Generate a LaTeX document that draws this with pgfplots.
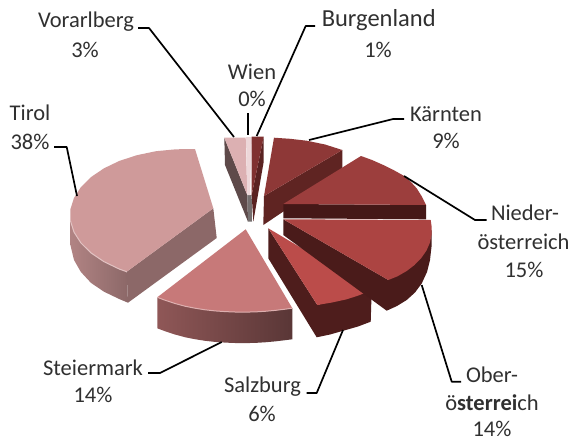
\documentclass[border=0pt]{standalone}
\usepackage{fontspec}
\setmainfont{Carlito}
\usepackage{pgfplots}
\pgfplotsset{compat=1.18}
\definecolor{tirT}{HTML}{CF9A9A}
\definecolor{tirS}{HTML}{8C6868}
\definecolor{steT}{HTML}{C77979}
\definecolor{salT}{HTML}{BB4C4A}
\definecolor{salS}{HTML}{4E1D1C}
\definecolor{oberT}{HTML}{AC4442}
\definecolor{oberS}{HTML}{4A1B1A}
\definecolor{niedT}{HTML}{9C3E3D}
\definecolor{niedS}{HTML}{451817}
\definecolor{karT}{HTML}{8E3837}
\definecolor{karS}{HTML}{5F2422}
\definecolor{burT}{HTML}{7F3130}
\definecolor{burS}{HTML}{5A2322}
\definecolor{vorT}{HTML}{DCB0B2}
\definecolor{vorS}{HTML}{5E4A4A}
\definecolor{txt}{HTML}{303030}
\tikzset{lab/.style={font=\fontsize{22.5}{27}\selectfont,text=txt,inner sep=0pt,anchor=center}}
\begin{document}
\begin{tikzpicture}
\begin{axis}[
    scale only axis,
    width=572pt,
    height=441pt,
    xmin=0, xmax=572,
    ymin=0, ymax=441,
    y dir=reverse,
    hide axis,
    clip=false,
    no markers,
    every axis plot/.append style={line join=round},
]
% page
\addplot[fill=white,draw=none] coordinates {(0,0)(572,0)(572,441)(0,441)(0,0)};
% Tirol
\addplot[draw=none,left color=tirS!45!tirT,right color=tirS] coordinates {(70.4,220.7)(70.4,245)(74,260)(80.9,272)(91,282.9)(104,291.7)(119.4,299.1)(128,302.7)(126.7,271.7)(119.4,269.1)(104,261.7)(91,252.9)(80.9,242.9)(74,232.1)(70.4,220.7)};
\addplot[fill=tirS,draw=none] coordinates {(126.7,271.7)(213.3,208.3)(216.7,238)(128,302.7)(126.7,271.7)};
\addplot[fill=tirT,draw=none] coordinates {(213.3,208.3)(195,149)(175.9,149.3)(156,151.2)(136.9,155.2)(119.4,160.9)(104,168.3)(91,177.1)(80.9,187.1)(74,197.9)(70.4,209.3)(70.4,220.7)(74,232.1)(80.9,242.9)(91,252.9)(104,261.7)(119.4,269.1)(126.7,271.7)(213.3,208.3)};
\addplot[draw=tirT!60!white,line width=1pt] coordinates {(70.4,220.7)(74,232.1)(80.9,242.9)(91,252.9)(104,261.7)(119.4,269.1)(126.7,271.7)};
% Steiermark
\addplot[draw=none,left color=steT!72!black,right color=steT!45!black] coordinates {(157.3,297.3)(157.3,328.3)(165,331.2)(175,334.5)(185,337.2)(195,339.2)(205,340.8)(215,341.9)(225,342.6)(235,343)(245,343.1)(255,342.9)(265,342.3)(275,341.4)(285,340.2)(292.3,339.3)(292.3,308.2)(285,309.2)(275,310.4)(265,311.3)(255,311.9)(245,312.1)(235,312)(225,311.6)(215,310.9)(205,309.8)(195,308.2)(185,306.2)(175,303.5)(165,300.2)(157.3,297.3)};
\addplot[fill=steT,draw=none] coordinates {(245.7,229.3)(157.3,297.3)(165,300.2)(175,303.5)(185,306.2)(195,308.2)(205,309.8)(215,310.9)(225,311.6)(235,312)(245,312.1)(255,311.9)(265,311.3)(275,310.4)(285,309.2)(292.3,308.2)(245.7,229.3)};
\addplot[draw=steT!60!white,line width=1pt] coordinates {(157.3,297.3)(165,300.2)(175,303.5)(185,306.2)(195,308.2)(205,309.8)(215,310.9)(225,311.6)(235,312)(245,312.1)(255,311.9)(265,311.3)(275,310.4)(285,309.2)(292.3,308.2)};
% Salzburg
\addplot[fill=salS,draw=none] coordinates {(268.3,228.3)(268.3,258.3)(316.7,337.3)(330,334.5)(343.3,330.7)(358,326.5)(370.7,321.7)(371.7,290)(317.3,305)(268.3,228.3)};
\addplot[fill=salT,draw=none] coordinates {(268.3,228.3)(317.3,305)(332,302.5)(346.7,299.3)(359,295.3)(371.7,290)(268.3,228.3)};
% Kaernten
\addplot[fill=karS,draw=none] coordinates {(264,196)(342.3,150)(342.3,172)(263.3,225)(264,196)};
\addplot[fill=karT,draw=none] coordinates {(264,196)(274,137.7)(290,138.8)(306.7,140.7)(325,144.5)(342.3,150)(264,196)};
% Niederoesterreich
\addplot[fill=niedS,draw=none] coordinates {(283.3,204)(283.3,218.3)(426,219.3)(426,205)(283.3,204)};
\addplot[fill=niedT,draw=none] coordinates {(283.3,204)(361,156)(372,160)(383.3,165)(393.5,170)(403.3,175.5)(410.5,181.5)(416.7,188.3)(421.5,196)(426,205)(283.3,204)};
% Oberoesterreich
\addplot[fill=oberS,draw=none] coordinates {(283.3,219.3)(283.3,235)(386.7,310.7)(397,306)(406.7,300)(415,292.5)(421.7,283.5)(427,272)(430,260)(431.7,245)(431.7,230)(388.3,280)(283.3,219.3)};
\addplot[fill=oberT,draw=none] coordinates {(283.3,219.3)(388.3,280)(397.5,276.3)(406.7,271)(414.5,265)(421.3,258)(426.5,250.5)(430,242.5)(431.7,234)(431.7,227)(430.7,220)(283.3,219.3)};
% Vorarlberg
\addplot[fill=vorS,draw=none] coordinates {(224.3,137.7)(225,165)(248,221.7)(247.3,195)(224.3,137.7)};
\addplot[fill=vorT,draw=none] coordinates {(224.3,137.7)(245.7,137.7)(247.3,195)(224.3,137.7)};
% Wien
\addplot[fill=gray!70!vorS,draw=none] coordinates {(247.3,195)(248,221.7)(252,221.7)(251.7,195)(247.3,195)};
\addplot[fill=vorT!50!white,draw=none] coordinates {(246,137)(251.7,137)(250,195)(247.3,195)(246,137)};
% Burgenland
\addplot[fill=burS,draw=none] coordinates {(251.7,195)(263.7,136.7)(263.7,161.7)(253.3,221.7)(251.7,195)};
\addplot[fill=burT,draw=none] coordinates {(251.7,136.7)(263.7,136.7)(251.7,195)(251.7,136.7)};
% leader lines
\addplot[black,line width=1.7pt] coordinates {(138,28)(149,28)(234,137)};
\addplot[black,line width=1.7pt] coordinates {(315,26)(305.7,26)(256.7,136)};
\addplot[black,line width=1.7pt] coordinates {(248,113)(248,135)};
\addplot[black,line width=1.7pt] coordinates {(404,119)(393,119)(309,140)};
\addplot[black,line width=1.7pt] coordinates {(54,147)(66.7,147)(77,196)};
\addplot[black,line width=1.7pt] coordinates {(404,176)(475,220)(486.7,220)};
\addplot[black,line width=1.7pt] coordinates {(421.7,285)(451.7,381.7)(461,381.7)};
\addplot[black,line width=1.7pt] coordinates {(343,330)(316.7,393)(306.7,393)};
\addplot[black,line width=1.7pt] coordinates {(221.7,342)(160,373)(148,373)};
% labels
\node[lab] at (axis cs:86,22) {Vorarlberg};
\node[lab] at (axis cs:85,50) {3\%};
\node[lab,font=\fontsize{24.5}{29}\selectfont] at (axis cs:378.7,20) {Burgenland};
\node[lab] at (axis cs:378,50) {1\%};
\node[lab] at (axis cs:252,72) {Wien};
\node[lab] at (axis cs:252,99) {0\%};
\node[lab] at (axis cs:446,114) {Kärnten};
\node[lab] at (axis cs:446,141) {9\%};
\node[lab] at (axis cs:30,113) {Tirol};
\node[lab] at (axis cs:30,142) {38\%};
\node[lab] at (axis cs:525,213) {Nieder-};
\node[lab] at (axis cs:523.5,242) {österreich};
\node[lab] at (axis cs:524,270) {15\%};
\node[lab] at (axis cs:492,375) {Ober-};
\node[lab] at (axis cs:492,403) {ö\textbf{sterrei}ch};
\node[lab] at (axis cs:492,429) {14\%};
\node[lab] at (axis cs:262.5,387) {Salzburg};
\node[lab] at (axis cs:262,414) {6\%};
\node[lab] at (axis cs:93,368) {Steiermark};
\node[lab] at (axis cs:93,395) {14\%};
\end{axis}
\end{tikzpicture}
\end{document}
